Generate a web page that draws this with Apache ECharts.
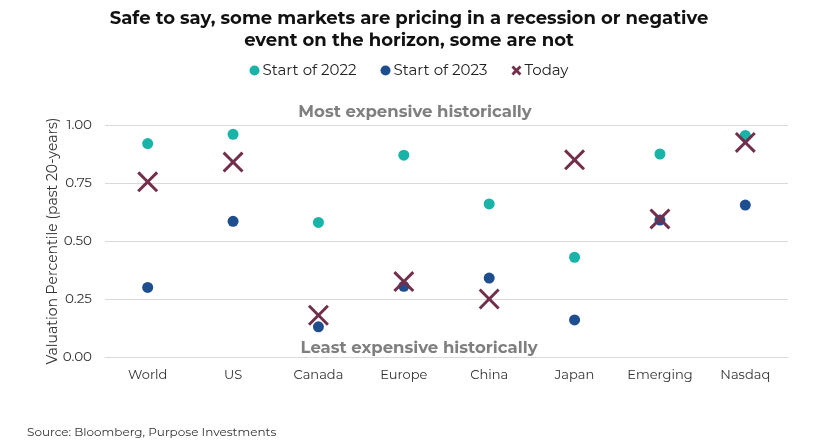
<!DOCTYPE html>
<html><head><meta charset="utf-8">
<script src="https://cdn.jsdelivr.net/npm/echarts@6/dist/echarts.min.js"></script>
<style>html,body{margin:0;padding:0;background:#fff}#c{width:818px;height:448px}</style>
</head><body><div id="c"></div>
<script>
const categories = ['World','US','Canada','Europe','China','Japan','Emerging','Nasdaq'];
const start2022 = [0.92, 0.96, 0.58, 0.87, 0.66, 0.43, 0.875, 0.955];
const start2023 = [0.30, 0.585, 0.13, 0.305, 0.34, 0.16, 0.59, 0.655];
const today = [0.755, 0.84, 0.18, 0.325, 0.25, 0.85, 0.595, 0.925];
const yTicks = [0, 0.25, 0.5, 0.75, 1.0];

const XPATH = 'path://M0,1 L1,0 L5,4 L9,0 L10,1 L6,5 L10,9 L9,10 L5,6 L1,10 L0,9 L4,5 Z';
const XPATH_LEG = 'path://M0,2 L2,0 L5,3 L8,0 L10,2 L7,5 L10,8 L8,10 L5,7 L2,10 L0,8 L3,5 Z';
const font = 'Montserrat, "Open Sans", "Noto Sans", sans-serif';
const chart = echarts.init(document.getElementById('c'));
chart.setOption({
  animation: false,
  title: [
    {text: 'Safe to say, some markets are pricing in a recession or negative\nevent on the horizon, some are not', left: 'center', top: 3,
     textStyle: {fontFamily: font, fontWeight: 'bold', fontSize: 18, color: '#111', lineHeight: 22}},
    {text: 'Most expensive historically', left: 410, top: 99, textAlign: 'center',
     textStyle: {fontFamily: font, fontWeight: 'bold', fontSize: 16.5, color: '#7f7f7f'}},
    {text: 'Least expensive historically', left: 414, top: 335, textAlign: 'center',
     textStyle: {fontFamily: font, fontWeight: 'bold', fontSize: 16.5, color: '#7f7f7f'}},
    {text: 'Source: Bloomberg, Purpose Investments', left: 22, top: 421,
     textStyle: {fontFamily: font, fontWeight: 'normal', fontSize: 12, color: '#333'}}
  ],
  legend: {
    top: 58, left: 'center', itemGap: 24, itemWidth: 10, itemHeight: 10,
    textStyle: {fontFamily: font, fontSize: 15, color: '#222', padding: [0,0,0,-2]},
    data: [
      {name: 'Start of 2022', icon: 'circle'},
      {name: 'Start of 2023', icon: 'circle'},
      {name: 'Today', icon: XPATH_LEG}
    ]
  },
  grid: {left: 105, right: 30, top: 125, bottom: 91},
  xAxis: {
    type: 'category', data: categories,
    axisLine: {show: true, lineStyle: {color: '#d9d9d9'}},
    axisTick: {show: false},
    axisLabel: {fontFamily: font, fontSize: 13, color: '#333', margin: 12}
  },
  yAxis: {
    type: 'value', min: 0, max: 1, interval: 0.25,
    name: 'Valuation Percentile (past 20-years)', nameLocation: 'middle', nameGap: 45,
    nameMoveOverlap: false,
    nameTextStyle: {fontFamily: font, fontSize: 14, color: '#333'},
    axisLine: {show: false}, axisTick: {show: false},
    splitLine: {lineStyle: {color: '#d9d9d9', width: 1}},
    axisLabel: {fontFamily: font, fontSize: 13.5, color: '#333', margin: 13,
      formatter: v => { const t = yTicks.find(x => Math.abs(x - v) < 1e-9); return (t !== undefined ? t : v).toFixed(2); }}
  },
  series: [
    {name: 'Start of 2022', type: 'scatter', data: start2022, symbol: 'circle', symbolSize: 11,
     itemStyle: {color: '#19b3a7', opacity: 1}, z: 2},
    {name: 'Start of 2023', type: 'scatter', data: start2023, symbol: 'circle', symbolSize: 11,
     itemStyle: {color: '#1f4e8e', opacity: 1}, z: 2},
    {name: 'Today', type: 'scatter', data: today, symbol: XPATH, symbolSize: 21,
     itemStyle: {color: '#722f4b', opacity: 1}, z: 3}
  ]
});
</script></body></html>
